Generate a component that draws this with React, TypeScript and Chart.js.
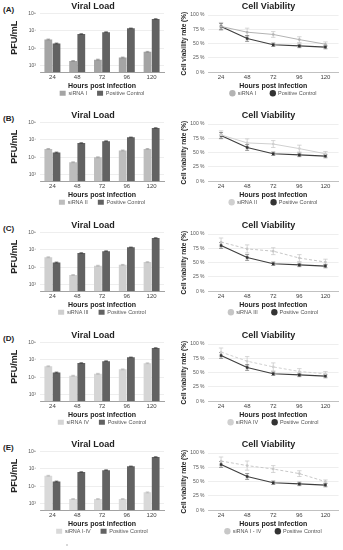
import React, { useEffect, useRef } from "react";
import { Chart, registerables } from "chart.js";

Chart.register(...registerables);

const FONT = "'Liberation Sans', Arial, sans-serif";
Chart.defaults.font.family = FONT;

// ---------- data ----------
const hours = ["24", "48", "72", "96", "120"];
const panelLetters = ["(A)", "(B)", "(C)", "(D)", "(E)"];
const barSeriesNames = ["siRNA I", "siRNA II", "siRNA III", "siRNA IV", "siRNA I-IV"];
const lineSeriesNames = ["siRNA I", "siRNA II", "siRNA III", "siRNA IV", "siRNA I - IV"];
const positiveName = "Positive Control";

const logTickValues = [1e3, 1e5, 1e7, 1e9];
const pctTickValues = [0, 25, 50, 75, 100];

// Viral load (PFU/mL)
const pfuPositive = [3.5e5, 4.2e6, 7e6, 1.9e7, 2.2e8];
const pfuPositiveErr = [4e4, 4e5, 6e5, 1.5e6, 2e7];
const pfuSiRNA_I = [1e6, 3.5e3, 5e3, 8.7e3, 3.9e4];
const pfuSiRNA_I_Err = [1.2e5, 4e2, 6e2, 1e3, 5e3];
const pfuSiRNA_II = [9e5, 2.7e4, 1e5, 6e5, 9e5];
const pfuSiRNA_II_Err = [1e5, 3e3, 1.2e4, 7e4, 1e5];
const pfuSiRNA_III = [1.4e6, 1.3e4, 1.5e5, 1.9e5, 3.9e5];
const pfuSiRNA_III_Err = [1.6e5, 1.5e3, 1.8e4, 2.2e4, 4.5e4];
const pfuSiRNA_IV = [1.8e6, 1.5e5, 2.5e5, 8e5, 4e6];
const pfuSiRNA_IV_Err = [2e5, 1.8e4, 3e4, 9e4, 4.5e5];
const pfuSiRNA_all = [1.6e6, 3.5e3, 3.5e3, 3.5e3, 2e4];
const pfuSiRNA_all_Err = [1.8e5, 4e2, 4e2, 4e2, 2.5e3];

// Cell viability (%)
const viabPositive = [80, 59, 48, 46, 44];
const viabPositiveErr = [5, 5, 3, 3, 3];
const viabSiRNA_I = [80, 70, 66, 57, 49];
const viabSiRNA_I_Err = [7, 7, 5, 5, 4];
const viabSiRNA_II = [81, 67, 65, 57, 48];
const viabSiRNA_II_Err = [7, 7, 6, 6, 4];
const viabSiRNA_III = [86, 74, 70, 58, 51];
const viabSiRNA_III_Err = [7, 7, 6, 6, 5];
const viabSiRNA_IV = [86, 70, 60, 52, 48];
const viabSiRNA_IV_Err = [7, 8, 7, 5, 4];
const viabSiRNA_all = [86, 78, 72, 64, 50];
const viabSiRNA_all_Err = [7, 8, 6, 5, 3];

const pfuSeries = [pfuSiRNA_I, pfuSiRNA_II, pfuSiRNA_III, pfuSiRNA_IV, pfuSiRNA_all];
const pfuErrors = [pfuSiRNA_I_Err, pfuSiRNA_II_Err, pfuSiRNA_III_Err, pfuSiRNA_IV_Err, pfuSiRNA_all_Err];
const viabSeries = [viabSiRNA_I, viabSiRNA_II, viabSiRNA_III, viabSiRNA_IV, viabSiRNA_all];
const viabErrors = [viabSiRNA_I_Err, viabSiRNA_II_Err, viabSiRNA_III_Err, viabSiRNA_IV_Err, viabSiRNA_all_Err];

// ---------- styles ----------
const barColors = ["#a4a4a4", "#bdbdbd", "#cfcfcf", "#d5d5d5", "#d9d9d9"];
const barErrColors = ["#8a8a8a", "#a0a0a0", "#b0b0b0", "#b5b5b5", "#b8b8b8"];
const positiveBarColor = "#626262";
const lineColors = ["#b3b3b3", "#d0d0d0", "#c6c6c6", "#d0d0d0", "#c8c8c8"];
const lineDashes: number[][] = [[], [], [3, 2], [3, 2], [3, 2]];

const supers: Record<string, string> = { "3": "\u00b3", "5": "\u2075", "7": "\u2077", "9": "\u2079" };

function drawErrorBars(chart: any) {
  const ctx = chart.ctx;
  chart.data.datasets.forEach((ds: any, i: number) => {
    if (!ds.errors) return;
    const meta = chart.getDatasetMeta(i);
    const ys = chart.scales[meta.yAxisID];
    ctx.save();
    ctx.strokeStyle = ds.errorColor || "#777";
    ctx.lineWidth = ds.errorWidth || 0.8;
    ctx.setLineDash([]);
    const cap = ds.errorCap || 2;
    meta.data.forEach((el: any, j: number) => {
      const v = ds.data[j];
      const e = ds.errors[j];
      const x = el.x;
      const yHi = ys.getPixelForValue(v + e);
      const yLo = ys.getPixelForValue(Math.max(v - e, ys.min));
      ctx.beginPath();
      ctx.moveTo(x, yHi);
      ctx.lineTo(x, yLo);
      ctx.moveTo(x - cap, yHi);
      ctx.lineTo(x + cap, yHi);
      ctx.moveTo(x - cap, yLo);
      ctx.lineTo(x + cap, yLo);
      ctx.stroke();
    });
    ctx.restore();
  });
}

const errorBarPlugin = {
  id: "errorBars",
  beforeDatasetsDraw(chart: any) {
    if (chart.config.type === "line") drawErrorBars(chart);
  },
  afterDatasetsDraw(chart: any) {
    if (chart.config.type === "bar") drawErrorBars(chart);
  },
};

// invisible right-hand spacer axis so the title stays centred on the canvas
function spacerAxis(w: number): any {
  return {
    type: "linear",
    position: "right",
    display: true,
    grid: { display: false, drawTicks: false },
    border: { display: false },
    ticks: { display: false },
    afterFit: (s: any) => {
      s.width = w;
    },
  };
}

// empty legend title with negative padding pulls the legend row up
function legendPull(labelPadding: number): any {
  return {
    display: true,
    text: "",
    font: { size: 1, lineHeight: 1 },
    padding: { top: 0, bottom: 0.65 - labelPadding - 1 },
  };
}

const LEG_PAD_BAR = 10;
const LEG_PAD_LINE = 14;

const xTitle: any = {
  display: true,
  text: "Hours post infection",
  color: "#222",
  font: { size: 7, weight: "bold" },
  padding: { top: -1, bottom: 0 },
};

const xTicks: any = {
  color: "#444",
  font: { size: 6 },
  padding: 1.5,
  maxRotation: 0,
  minRotation: 0,
  autoSkip: false,
};

function barConfig(i: number): any {
  return {
    type: "bar",
    data: {
      labels: hours,
      datasets: [
        {
          label: barSeriesNames[i],
          data: pfuSeries[i],
          backgroundColor: barColors[i],
          errors: pfuErrors[i],
          errorColor: barErrColors[i],
          errorCap: 1.8,
          errorWidth: 0.7,
        },
        {
          label: positiveName,
          data: pfuPositive,
          backgroundColor: positiveBarColor,
          errors: pfuPositiveErr,
          errorColor: "#444",
          errorCap: 1.8,
          errorWidth: 0.7,
        },
      ],
    },
    options: {
      responsive: false,
      animation: false,
      devicePixelRatio: 1,
      layout: { padding: 0 },
      datasets: { bar: { categoryPercentage: 0.66, barPercentage: 0.95 } },
      plugins: {
        title: {
          display: true,
          text: "Viral Load",
          color: "#222",
          font: { size: 9, weight: "bold" },
          padding: { top: 1, bottom: 1.5 },
        },
        legend: {
          position: "bottom",
          fullSize: false,
          title: legendPull(LEG_PAD_BAR),
          labels: {
            boxWidth: 6,
            boxHeight: 5,
            padding: LEG_PAD_BAR,
            color: "#555",
            font: { size: 5.5 },
          },
        },
        tooltip: { enabled: false },
      },
      scales: {
        x: {
          grid: { display: false, drawTicks: false },
          border: { display: true, color: "#8a8a8a", width: 0.8 },
          ticks: xTicks,
          title: xTitle,
        },
        y: {
          type: "logarithmic",
          min: 180,
          max: 1e9,
          afterBuildTicks: (s: any) => {
            s.ticks = logTickValues.map((v) => ({ value: v }));
          },
          afterFit: (s: any) => {
            s.width = 40;
          },
          grid: { color: "#e6e6e6", lineWidth: 0.7, drawTicks: false },
          border: { display: false },
          ticks: {
            color: "#555",
            font: { size: 5 },
            padding: 4,
            callback: (v: number) => {
              const e = String(Math.round(Math.log10(v)));
              return "10" + (supers[e] || e);
            },
          },
          title: {
            display: true,
            text: "    PFU/mL",
            color: "#222",
            font: { size: 9, weight: "bold" },
            padding: { top: 9.6, bottom: 0 },
          },
        },
        yR: spacerAxis(22),
      },
    },
    plugins: [errorBarPlugin],
  };
}

function lineConfig(i: number): any {
  return {
    type: "line",
    data: {
      labels: hours,
      datasets: [
        {
          label: lineSeriesNames[i],
          data: viabSeries[i],
          borderColor: lineColors[i],
          backgroundColor: "#a9a9a9",
          borderDash: lineDashes[i],
          borderWidth: 1,
          pointRadius: 1.3,
          pointBorderWidth: 0,
          pointBackgroundColor: lineColors[i],
          errors: viabErrors[i],
          errorColor: "#c4c4c4",
          errorCap: 2.2,
          errorWidth: 0.7,
        },
        {
          label: positiveName,
          data: viabPositive,
          borderColor: "#3f3f3f",
          backgroundColor: "#333",
          borderWidth: 1.2,
          pointStyle: "rect",
          pointRadius: 1.8,
          pointBorderWidth: 0,
          pointBackgroundColor: "#333",
          errors: viabPositiveErr,
          errorColor: "#666",
          errorCap: 2,
          errorWidth: 0.7,
        },
      ],
    },
    options: {
      responsive: false,
      animation: false,
      devicePixelRatio: 1,
      layout: { padding: 0 },
      plugins: {
        title: {
          display: true,
          text: "Cell Viability",
          color: "#222",
          font: { size: 9, weight: "bold" },
          padding: { top: 1, bottom: 3.2 },
        },
        legend: {
          position: "bottom",
          fullSize: false,
          title: legendPull(LEG_PAD_LINE),
          labels: {
            usePointStyle: true,
            pointStyle: "circle",
            boxWidth: 5,
            boxHeight: 4.5,
            padding: LEG_PAD_LINE,
            color: "#555",
            font: { size: 5.5 },
          },
        },
        tooltip: { enabled: false },
      },
      scales: {
        x: {
          type: "category",
          offset: true,
          grid: { display: false, drawTicks: false },
          border: { display: true, color: "#b5b5b5", width: 0.8 },
          ticks: xTicks,
          title: xTitle,
        },
        y: {
          min: 0,
          max: 100,
          afterBuildTicks: (s: any) => {
            s.ticks = pctTickValues.map((v) => ({ value: v }));
          },
          afterFit: (s: any) => {
            s.width = 28;
          },
          grid: { color: "#e6e6e6", lineWidth: 0.7, drawTicks: false },
          border: { display: false },
          ticks: {
            color: "#555",
            font: { size: 5 },
            padding: 3.5,
            callback: (v: number) => v + " %",
          },
          title: {
            display: true,
            text: "Cell viability rate (%)",
            color: "#222",
            font: { size: 6.5, weight: "bold" },
            padding: { top: 0.8, bottom: 0 },
          },
        },
        yR: spacerAxis(18.5),
      },
    },
    plugins: [errorBarPlugin],
  };
}

function ChartCanvas(props: { left: number; top: number; width: number; height: number; config: any }) {
  const ref = useRef<HTMLCanvasElement | null>(null);
  const { left, top, width, height, config } = props;
  useEffect(() => {
    const c = new Chart(ref.current as HTMLCanvasElement, config);
    return () => c.destroy();
  }, []);
  return (
    <canvas
      ref={ref}
      width={width}
      height={height}
      style={{ position: "absolute", left, top, width, height }}
    />
  );
}

const rowTops = [0, 109, 219, 329, 438];

export default function App() {
  return (
    <div
      style={{
        position: "fixed",
        left: 0,
        top: 0,
        width: 343,
        height: 550,
        overflow: "hidden",
        background: "#fff",
      }}
    >
      {rowTops.map((t, i) => (
        <React.Fragment key={i}>
          <div
            style={{
              position: "absolute",
              left: 3,
              top: t + 5,
              font: `bold 8px ${FONT}`,
              color: "#222",
              lineHeight: "9px",
            }}
          >
            {panelLetters[i]}
          </div>
          <ChartCanvas left={0} top={t} width={186} height={106} config={barConfig(i)} />
          <ChartCanvas left={180} top={t} width={177} height={106} config={lineConfig(i)} />
        </React.Fragment>
      ))}
      <div
        style={{
          position: "absolute",
          left: 66,
          top: 544,
          width: 2,
          height: 2,
          background: "#d8d8d8",
        }}
      />
    </div>
  );
}
